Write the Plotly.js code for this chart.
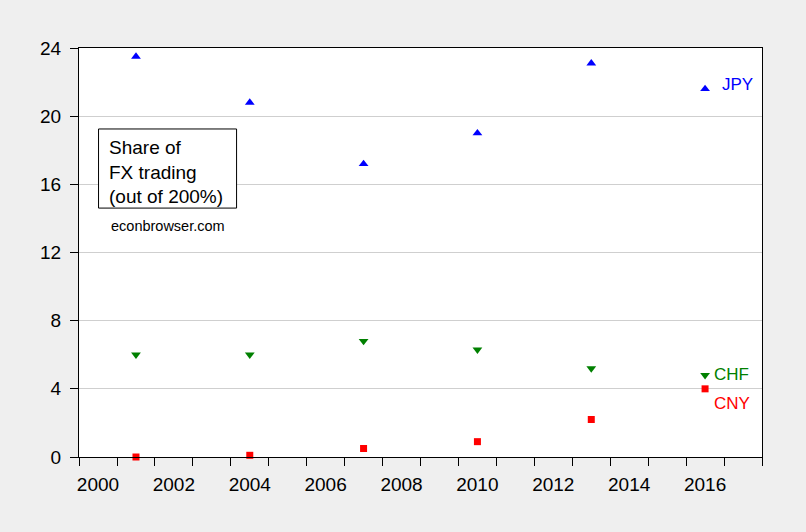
<!DOCTYPE html>
<html>
<head>
<meta charset="utf-8">
<script src="https://cdn.plot.ly/plotly-3.0.1.min.js"></script>
<style>html,body{margin:0;padding:0;background:#efefef;}#chart{width:806px;height:532px;}</style>
</head>
<body>
<div id="chart"></div>
<script>
// Survey years (BIS triennial survey, annual observations)
const years = ['2001', '2004', '2007', '2010', '2013', '2016'];
// Share of FX trading (out of 200%)
const jpy = [23.5, 20.8, 17.2, 19.0, 23.1, 21.6];
const chf = [6.0, 6.0, 6.8, 6.3, 5.2, 4.8];
const cny = [0.0, 0.1, 0.5, 0.9, 2.2, 4.0];
// Axis labels
const xTickLabels = ['2000', '2002', '2004', '2006', '2008', '2010', '2012', '2014', '2016'];
const xTickVals = xTickLabels.map(y => y + '-07-02');
const yTickVals = [0, 4, 8, 12, 16, 20, 24];

const FONT = 'Arial, "Liberation Sans", sans-serif';

function series(name, y, color, symbol, size) {
  return {
    type: 'scatter', mode: 'markers', name: name,
    x: years, y: y,
    xperiod: 'M12', xperiodalignment: 'middle',
    marker: {color: color, symbol: symbol, size: size, line: {width: 0}},
    cliponaxis: false,
    hoverinfo: 'x+y+name'
  };
}

const data = [
  series('JPY', jpy, '#0000ff', 'triangle-up', 8.5),
  series('CHF', chf, '#008000', 'triangle-down', 8.5),
  series('CNY', cny, '#ff0000', 'square', 7)
];

const layout = {
  width: 806, height: 532,
  paper_bgcolor: '#efefef', plot_bgcolor: '#ffffff',
  margin: {l: 79, r: 44, t: 48, b: 75, pad: 0},
  showlegend: false,
  font: {family: FONT, color: '#000000', size: 19},
  xaxis: {
    type: 'date',
    range: ['2000-01-01', '2018-01-01'],
    tickmode: 'array', tickvals: xTickVals, ticktext: xTickLabels,
    ticks: 'outside', ticklen: 8, tickcolor: 'rgba(0,0,0,0)',
    minor: {tickmode: 'linear', tick0: '2000-01-01', dtick: 'M12', ticks: 'outside', ticklen: 8, tickwidth: 1, tickcolor: '#000000', showgrid: false},
    showgrid: false, zeroline: false,
    showline: true, linecolor: '#000000', linewidth: 1, mirror: true,
    tickfont: {family: FONT, size: 19, color: '#000000'},
    ticklabelstandoff: 2
  },
  yaxis: {
    range: [0, 24],
    tickmode: 'array', tickvals: yTickVals,
    ticks: 'outside', ticklen: 8, tickwidth: 1, tickcolor: '#000000',
    showgrid: true, gridcolor: '#cfcfcf', gridwidth: 1,
    zeroline: false,
    showline: true, linecolor: '#000000', linewidth: 1, mirror: true,
    tickfont: {family: FONT, size: 19, color: '#000000'},
    ticklabelstandoff: 5
  },
  shapes: [
    {type: 'rect', xref: 'paper', yref: 'paper', x0: 0.0286, x1: 0.2307, y0: 0.6086, y1: 0.802,
     fillcolor: '#ffffff', line: {color: '#000000', width: 1}, layer: 'above'}
  ],
  annotations: [
    {xref: 'paper', yref: 'paper', x: 0.0418, y: 0.697, xanchor: 'left', yanchor: 'middle',
     text: 'Share of<br>FX trading<br>(out of 200%)', align: 'left', showarrow: false,
     font: {family: FONT, size: 19, color: '#000000'}, borderpad: 0},
    {xref: 'paper', yref: 'paper', x: 0.0432, y: 0.5645, xanchor: 'left', yanchor: 'middle',
     text: 'econbrowser.com', showarrow: false,
     font: {family: FONT, size: 14.5, color: '#000000'}},
    {xref: 'x', yref: 'y', x: '2016-11-20', y: 21.84, xanchor: 'left', yanchor: 'middle',
     text: 'JPY', showarrow: false, font: {family: FONT, size: 17, color: '#0000ff'}},
    {xref: 'x', yref: 'y', x: '2016-09-10', y: 4.84, xanchor: 'left', yanchor: 'middle',
     text: 'CHF', showarrow: false, font: {family: FONT, size: 17, color: '#008000'}},
    {xref: 'x', yref: 'y', x: '2016-09-10', y: 3.14, xanchor: 'left', yanchor: 'middle',
     text: 'CNY', showarrow: false, font: {family: FONT, size: 17, color: '#ff0000'}}
  ]
};

Plotly.newPlot('chart', data, layout, {displayModeBar: false, staticPlot: true});
</script>
</body>
</html>
